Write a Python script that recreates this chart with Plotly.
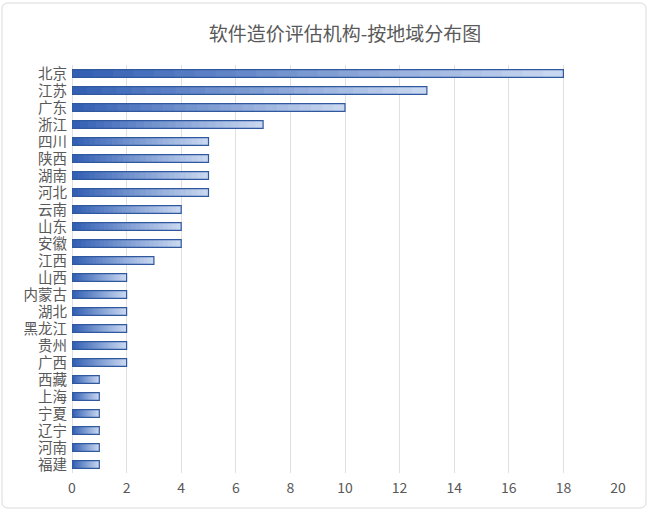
import plotly.graph_objects as go

regions = ["北京", "江苏", "广东", "浙江", "四川", "陕西", "湖南", "河北", "云南", "山东", "安徽",
           "江西", "山西", "内蒙古", "湖北", "黑龙江", "贵州", "广西", "西藏", "上海", "宁夏",
           "辽宁", "河南", "福建"]
counts = [18, 13, 10, 7, 5, 5, 5, 5, 4, 4, 4, 3, 2, 2, 2, 2, 2, 2, 1, 1, 1, 1, 1, 1]
title_text = "软件造价评估机构-按地域分布图"

FONT = "Noto Sans CJK SC, Microsoft YaHei, sans-serif"
dark = (52, 96, 180)
light = (200, 215, 240)
N = 24
W = 0.46

fig = go.Figure()
# gradient simulated by overlaid bars of decreasing length
for k in range(N):
    t = k / (N - 1)
    c = tuple(int(round(light[i] + (dark[i] - light[i]) * t)) for i in range(3))
    fig.add_trace(go.Bar(
        y=regions, x=[v * (N - k) / N for v in counts], orientation="h",
        marker=dict(color="rgb(%d,%d,%d)" % c, line=dict(width=0)),
        width=W, hoverinfo="skip", showlegend=False))
# outline
fig.add_trace(go.Bar(
    y=regions, x=counts, orientation="h",
    marker=dict(color="rgba(0,0,0,0)", line=dict(color="#30589e", width=1.2)),
    width=W, showlegend=False))

L, R, T, B = 72, 618, 65, 473
pw, ph = R - L, B - T
def px(x): return (x - L) / pw
def py(y): return (B - y) / ph

x0, x1, y0, y1, r = 2, 646, 3, 508, 6
path = (f"M {px(x0+r)},{py(y0)} L {px(x1-r)},{py(y0)} Q {px(x1)},{py(y0)} {px(x1)},{py(y0+r)} "
        f"L {px(x1)},{py(y1-r)} Q {px(x1)},{py(y1)} {px(x1-r)},{py(y1)} "
        f"L {px(x0+r)},{py(y1)} Q {px(x0)},{py(y1)} {px(x0)},{py(y1-r)} "
        f"L {px(x0)},{py(y0+r)} Q {px(x0)},{py(y0)} {px(x0+r)},{py(y0)} Z")

fig.update_layout(
    width=650, height=514,
    margin=dict(l=L, r=650 - R, t=T, b=514 - B),
    barmode="overlay",
    paper_bgcolor="white", plot_bgcolor="white",
    font=dict(family=FONT, color="#595959"),
    title=dict(text=title_text, x=0.5, xref="paper", xanchor="center", y=1 - 34 / 514, yanchor="middle",
               font=dict(size=19, color="#595959", family=FONT)),
    xaxis=dict(range=[0, 20], dtick=2, showgrid=True, gridcolor="#e0e0e0", gridwidth=1,
               zeroline=True, zerolinecolor="#e0e0e0", zerolinewidth=1,
               showline=False, tickfont=dict(size=14, color="#595959"), ticks="",
               ticklabelstandoff=5),
    yaxis=dict(autorange="reversed", showgrid=False, zeroline=False, showline=False,
               tickfont=dict(size=14.5, color="#595959"), ticks="", ticklabelstandoff=4),
    shapes=[dict(type="path", path=path, xref="paper", yref="paper",
                 line=dict(color="#d9d9d9", width=1), fillcolor="rgba(0,0,0,0)", layer="below")],
)

fig.write_html("out.html")
